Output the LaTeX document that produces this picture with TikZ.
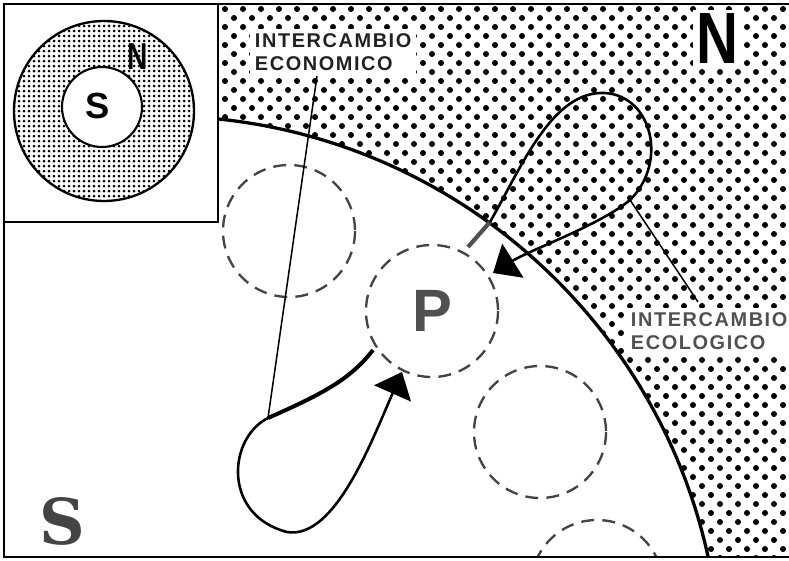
\documentclass[tikz,border=0pt]{standalone}
\usepackage{fontspec}
\setsansfont{Liberation Sans}
\newfontfamily\tagfont{Liberation Sans}[LetterSpace=8]
\newfontfamily\bigserif{DejaVu Serif}
\usetikzlibrary{arrows.meta}
\definecolor{ink}{HTML}{222222}
\definecolor{pale}{HTML}{505050}
\definecolor{dim}{HTML}{444444}

\tikzset{
  zone/.style={dash pattern=on 11pt off 7pt, line width=2pt, draw=dim},
  flow/.style={line width=2.2pt, -{Triangle[length=20pt,width=34pt]}},
  tag/.style={font=\tagfont\bfseries\fontsize{17}{19.6}\selectfont, align=left,
    anchor=west, fill=white, inner sep=4pt},
}

\begin{document}
\begin{tikzpicture}[x=0.03cm, y=-0.03cm]
  \useasboundingbox (0,0) rectangle (789,560);
  \coordinate (O)  at (160,677);
  \coordinate (C1) at (289,231);
  \coordinate (C2) at (432,311);
  \coordinate (C3) at (540,432);
  \coordinate (C4) at (597,586);
  \coordinate (I)  at (104,111);
  \coordinate (Is) at (102,107);

  \begin{scope}
    \clip (4,4) rectangle (789,557);
    % halftone of N
    \foreach \j in {0,...,62} {
      \pgfmathsetmacro\sh{mod(\j,2)*9}
      \foreach \i in {11,...,44}
        \fill (\i*18+\sh,\j*9) circle (3);
    }
    \fill[white] (O) circle (561);
    \foreach \c in {C1,C2,C3,C4} \draw[zone] (\c) circle (66);
    \draw[line width=2.8pt] (O) circle (561);
    % inset
    \filldraw[fill=white, line width=1.8pt] (0,0) rectangle (218,222);
  \end{scope}

  \begin{scope}
    \clip (I) circle (90);
    \foreach \i in {0,...,36}
      \foreach \j in {0,...,36}
        \fill (14+\i*5,21+\j*5) circle (1.5);
  \end{scope}
  \draw[line width=2pt] (I) circle (90);
  \filldraw[fill=white, line width=1.8pt] (Is) circle (40);

  \draw[line width=2.4pt] (4,4) rectangle (800,557);

  % economic loop
  \coordinate (a0) at (373,350);
  \coordinate (a1) at (268,418);
  \coordinate (a2) at (287,532);
  \coordinate (a3) at (402,372);
  \draw[line width=3.4pt] (a0) .. controls (350,380) and (320,395) .. (a1);
  \draw[flow] (a1) .. controls (228,438) and (222,515) .. (a2)
    .. controls (335,540) and (372,440) .. (a3);

  % ecological loop
  \coordinate (b0) at (468,247);
  \coordinate (b1) at (490,222);
  \coordinate (b2) at (600,93);
  \coordinate (b3) at (630,200);
  \coordinate (b4) at (493,273);
  \draw[line width=3.6pt, pale] (b0) -- (b1);
  \draw[flow] (b1) .. controls (520,170) and (550,95) .. (b2)
    .. controls (650,91) and (670,160) .. (b3)
    .. controls (600,225) and (530,250) .. (b4);

  \node[tag, text=ink] (econ) at (250,52) {INTERCAMBIO\\ECONOMICO};
  \coordinate (econ-foot) at (317,76);
  \draw[line width=1.3pt] (econ-foot) -- (a1);
  \node[tag, text=pale] (eco) at (626,331) {INTERCAMBIO\\ECOLOGICO};
  \coordinate (eco-foot) at (698,302);
  \draw[line width=1.3pt] (b3) -- (eco-foot);

  \node[font=\sffamily\bfseries\fontsize{62}{62}\selectfont, xscale=0.8,
    fill=white, inner sep=3pt] (N) at (717,39) {N};
  \node[font=\sffamily\bfseries\fontsize{51}{51}\selectfont, text=pale] (P) at (C2) {P};
  \node[font=\bigserif\bfseries\fontsize{54}{54}\selectfont, text=dim] (S) at (62,521) {S};
  \node[font=\sffamily\bfseries\fontsize{31}{31}\selectfont] (s) at (98,106) {S};
  \node[font=\sffamily\bfseries\fontsize{32}{32}\selectfont, xscale=0.75] (n) at (138,57) {N};
\end{tikzpicture}
\end{document}
